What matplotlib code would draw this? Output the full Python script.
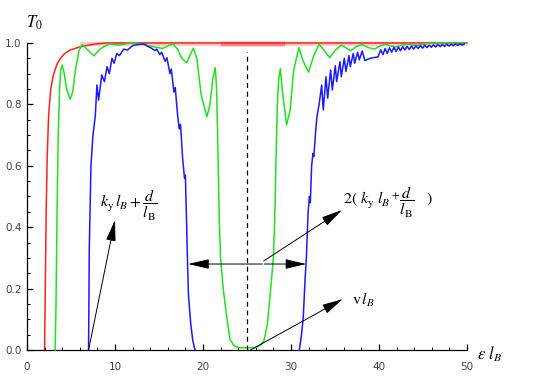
import matplotlib
matplotlib.use("Agg")
import matplotlib.pyplot as plt
from matplotlib.ticker import MultipleLocator

plt.rcParams['mathtext.fontset'] = 'stix'

# transmission curves
red_x = [2.0, 2.08, 2.18, 2.3, 2.46, 2.7, 3.0, 3.4, 3.8, 4.3, 4.9, 6.1, 7.6, 9.0, 50.0]
red_y = [0.0, 0.2, 0.45, 0.63, 0.765, 0.85, 0.896, 0.93, 0.95, 0.966, 0.977, 0.988, 0.996, 1.0, 1.0]

# pale halo along the red line at T=1
halo_x = [6.0, 50.0]
halo_y = [0.997, 0.997]
halo2_x = [22.0, 29.3]
halo2_y = [0.997, 0.997]

green_x = [3.2, 3.3, 3.42, 3.55, 3.7, 3.85, 4.0, 4.2, 4.5, 4.9, 5.2, 5.5, 5.9, 6.3, 6.8, 7.6,
           8.3, 9.3, 10.5, 11.8, 13.0, 14.0, 15.4, 16.0, 16.6, 17.1, 17.6, 18.15, 18.6, 18.9,
           19.3, 19.8, 20.45, 20.8, 21.1, 21.4, 21.55, 21.7, 21.85, 22.0, 22.3, 22.7, 23.07,
           23.5, 24.0, 25.0, 26.0, 26.5, 26.93, 27.3, 27.7, 28.0, 28.15, 28.3, 28.45, 28.6,
           28.8, 29.0, 29.5, 29.9, 30.3, 30.9, 31.4, 32.0, 32.6, 33.2, 33.8, 34.4, 35.0, 35.7,
           36.2, 36.8, 37.4, 38.1, 38.8, 39.5, 40.1, 40.7, 41.4, 42.0, 42.6, 43.2, 43.8, 44.5,
           45.7, 47.0, 50.0]
green_y = [0.0, 0.15, 0.45, 0.7, 0.85, 0.915, 0.928, 0.905, 0.85, 0.817, 0.84, 0.91, 0.975, 0.995, 0.98, 0.958,
           0.98, 0.997, 0.993, 1.0, 0.997, 0.99, 0.982, 0.99, 0.997, 0.98, 0.95, 0.935, 0.965, 0.983,
           0.95, 0.83, 0.76, 0.8, 0.88, 0.92, 0.85, 0.65, 0.42, 0.3, 0.2, 0.108, 0.035,
           0.015, 0.008, 0.007, 0.008, 0.015, 0.03, 0.08, 0.2, 0.3, 0.42, 0.62, 0.8, 0.88,
           0.917, 0.85, 0.733, 0.78, 0.91, 0.985, 0.94, 0.905, 0.96, 0.996, 0.975, 0.952, 0.975, 0.993,
           0.985, 0.975, 0.988, 0.995, 0.985, 0.98, 0.99, 0.996, 0.99, 0.987, 0.993, 0.997, 0.993, 0.993,
           0.999, 1.0, 1.0]

blue_x = [7.0, 7.08, 7.27, 7.5, 7.77, 7.95, 8.14, 8.5, 8.8, 9.1, 9.36, 9.66, 9.9, 10.2, 10.5,
          11.0, 11.4, 12.1, 13.3, 13.6, 14.2, 14.55, 14.74, 15.1, 15.3, 15.7, 15.9, 16.25, 16.4,
          16.7, 16.85, 17.1, 17.3, 17.45, 17.7, 17.9, 18.0, 18.15, 18.25, 18.35, 18.6, 18.85, 19.1,
          30.95, 31.2, 31.4, 31.6, 31.75, 31.95, 32.1, 32.2, 32.35, 32.5, 32.6, 32.8, 32.95, 33.2,
          33.49, 33.67, 33.98, 34.17, 34.51, 34.7, 35.04, 35.19, 35.57, 35.72, 36.06, 36.25, 36.59,
          36.74, 37.08, 37.24, 37.58, 37.76, 38.1, 38.4, 39.0, 39.9,
          40.2, 40.45, 40.7, 40.95, 41.2, 41.45, 41.7, 41.95, 42.2, 42.45, 42.7, 42.95, 43.2, 43.45,
          43.7, 43.95, 44.2, 44.45, 44.7, 44.95, 45.2, 45.45, 45.7, 45.95, 46.2, 46.45, 46.7, 46.95,
          47.2, 47.45, 47.7, 47.95, 48.2, 48.45, 48.7, 48.95, 49.2, 49.45, 49.7]
blue_y = [0.0, 0.33, 0.6, 0.7, 0.765, 0.863, 0.814, 0.896, 0.874, 0.923, 0.9, 0.95, 0.934, 0.966, 0.959,
          0.98, 0.977, 0.993, 0.997, 0.991, 0.982, 0.975, 0.98, 0.962, 0.97, 0.94, 0.952, 0.9, 0.915,
          0.84, 0.855, 0.77, 0.72, 0.735, 0.62, 0.56, 0.57, 0.4, 0.28, 0.18, 0.088, 0.03, 0.0,
          0.0, 0.05, 0.108, 0.228, 0.3, 0.45, 0.5, 0.48, 0.6, 0.64, 0.63, 0.71, 0.76, 0.8,
          0.863, 0.782, 0.89, 0.82, 0.912, 0.847, 0.926, 0.874, 0.939, 0.89, 0.95, 0.907, 0.959,
          0.923, 0.966, 0.934, 0.97, 0.945, 0.974, 0.943, 0.95, 0.955,
          0.978, 0.962, 0.982, 0.966, 0.984, 0.970, 0.986, 0.972, 0.987, 0.975, 0.988, 0.977, 0.989, 0.979,
          0.990, 0.980, 0.991, 0.982, 0.992, 0.983, 0.993, 0.985, 0.993, 0.986, 0.994, 0.987, 0.995, 0.988,
          0.995, 0.989, 0.996, 0.990, 0.996, 0.991, 0.997, 0.992, 0.997, 0.993, 0.997]

# split blue into its two branches (left hump / right rise)
blue_split = 43

center_x = 25.0
center_top = 0.97

fig = plt.figure(figsize=(5.45, 3.82), dpi=100)
ax = fig.add_axes([0.0495, 0.0838, 0.8073, 0.8037])

ax.plot(halo_x, halo_y, color='#ffcccc', lw=3.2, solid_capstyle='butt', clip_on=False, zorder=1)
ax.plot(halo2_x, halo2_y, color='#ff8080', lw=3.2, solid_capstyle='butt', clip_on=False, zorder=1)
ax.plot(red_x, red_y, color='#ff2020', lw=1.1, clip_on=False, zorder=2)
ax.plot(green_x, green_y, color='#22e022', lw=1.1, clip_on=False, zorder=3)
ax.plot(blue_x[:blue_split], blue_y[:blue_split], color='#1a1aff', lw=1.1, clip_on=False, zorder=4)
ax.plot(blue_x[blue_split:], blue_y[blue_split:], color='#1a1aff', lw=1.1, clip_on=False, zorder=4)

ax.plot([center_x, center_x], [0, center_top], color='black', lw=0.9, ls=(0, (4, 3)), zorder=5)

arrow = dict(arrowstyle='-|>,head_length=1.3,head_width=0.3', color='black', lw=0.7,
             shrinkA=0, shrinkB=0, mutation_scale=10)
ax.annotate('', xy=(10.0, 0.423), xytext=(7.0, 0.0), arrowprops=arrow, zorder=6)
ax.annotate('', xy=(18.3, 0.28), xytext=(26.75, 0.28), arrowprops=arrow, zorder=6)
ax.annotate('', xy=(31.75, 0.28), xytext=(26.95, 0.28), arrowprops=arrow, zorder=6)
ax.annotate('', xy=(35.8, 0.456), xytext=(26.9, 0.29), arrowprops=arrow, zorder=6)
ax.annotate('', xy=(35.9, 0.166), xytext=(25.4, 0.0), arrowprops=arrow, zorder=6)

ax.text(8.3, 0.47, r'$k_{\mathrm{y}}\,l_B + \dfrac{d}{l_{\mathrm{B}}}$', fontsize=11.5, ha='left', va='center')
ax.text(35.9, 0.48, r'$2(\ k_{\mathrm{y}}\ l_B\,{}^{+}\dfrac{d}{l_{\mathrm{B}}}\quad)$', fontsize=11.5,
        ha='left', va='center')
ax.text(36.9, 0.163, r'$\mathrm{v}\,l_B$', fontsize=11.5, ha='left', va='center')

ax.text(0.8, 1.065, r'$T_0$', fontsize=12, ha='center', va='center')
ax.text(52.6, -0.013, r'$\epsilon\ l_B$', fontsize=12, ha='center', va='center', clip_on=False)

ax.set_xlim(0, 50)
ax.set_ylim(0, 1)
ax.spines['top'].set_visible(False)
ax.spines['right'].set_visible(False)
ax.spines['left'].set_linewidth(0.9)
ax.spines['bottom'].set_linewidth(0.9)

ax.xaxis.set_major_locator(MultipleLocator(10))
ax.xaxis.set_minor_locator(MultipleLocator(2))
ax.yaxis.set_major_locator(MultipleLocator(0.2))
ax.yaxis.set_minor_locator(MultipleLocator(0.05))
ax.set_yticks([0, 0.2, 0.4, 0.6, 0.8, 1.0])
ax.set_yticklabels(['0.0', '0.2', '0.4', '0.6', '0.8', '1.0'])
ax.tick_params(which='major', direction='in', length=4.5, width=0.9, labelsize=7.5,
               labelcolor='#444444')
ax.tick_params(which='minor', direction='in', length=2.5, width=0.7)
ax.tick_params(axis='x', which='major', pad=9)
ax.tick_params(axis='y', which='major', pad=4)

fig.savefig('out.png', dpi=100)
